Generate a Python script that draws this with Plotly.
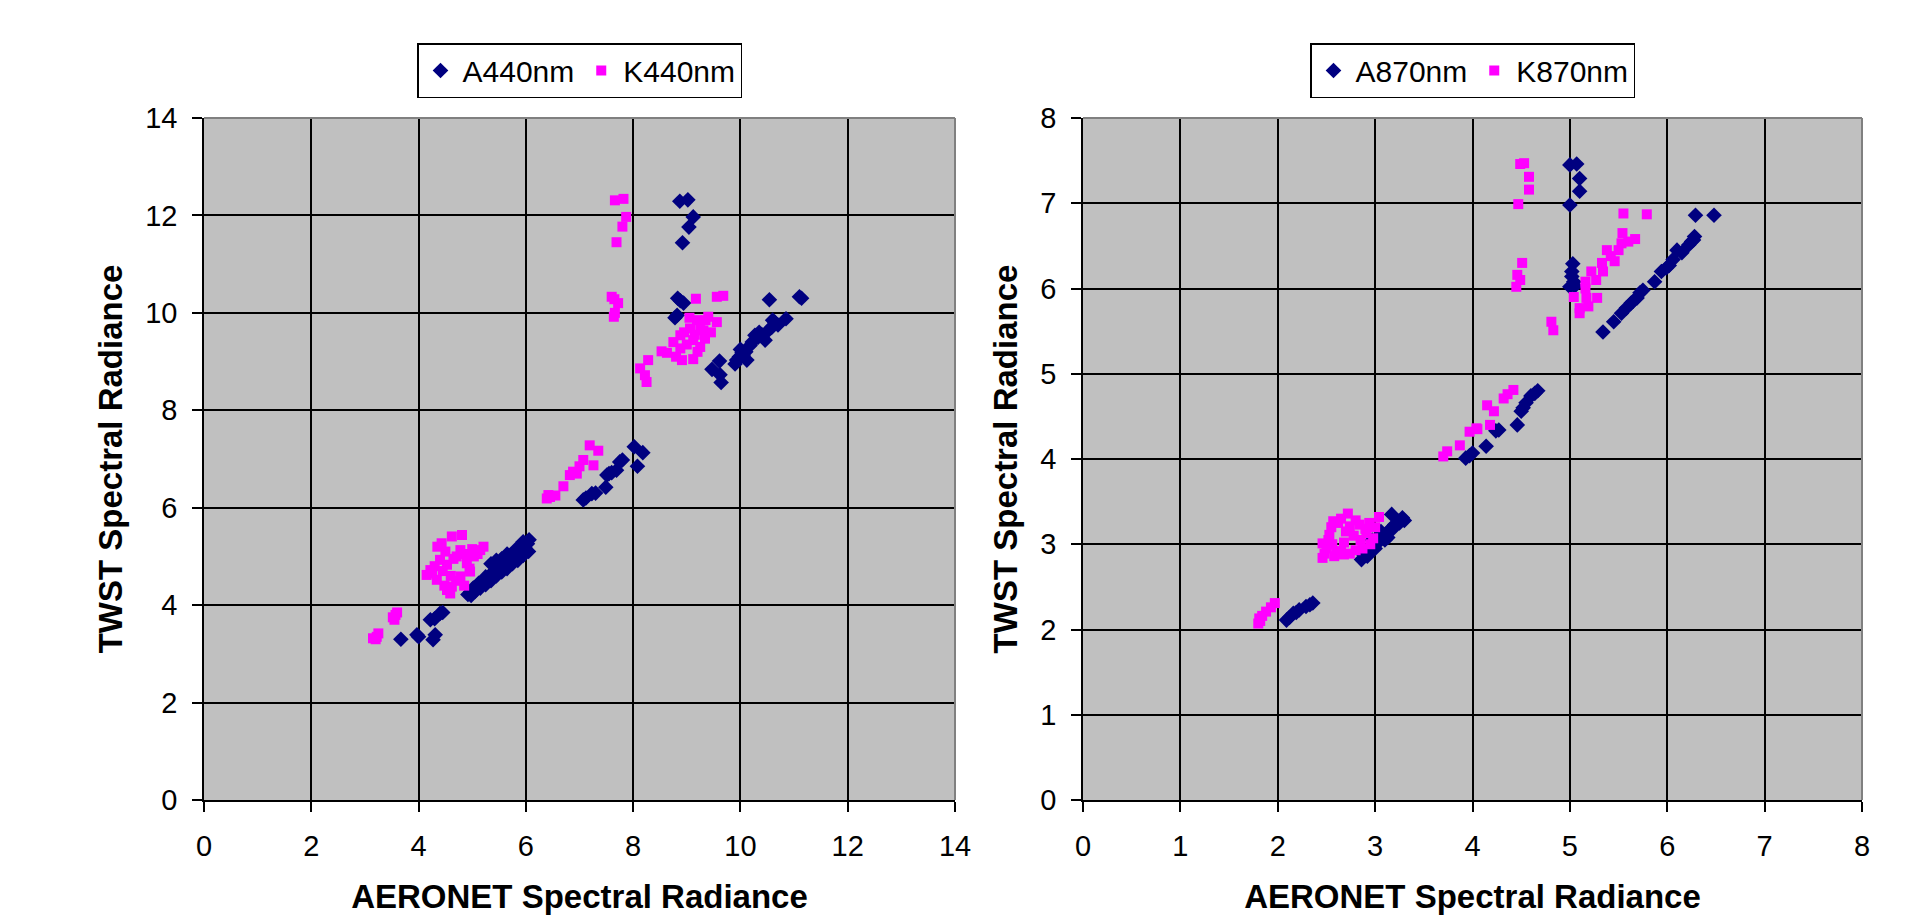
import plotly.graph_objects as go

# ---------------- Left panel: 440 nm ----------------
a440_x = [3.67, 3.97, 4.00, 4.27, 4.31, 4.22, 4.30, 4.40, 4.45,
          4.92, 4.97, 5.02, 5.08, 5.12, 5.18, 5.22, 5.28, 5.33, 5.38, 5.42, 5.47, 5.52, 5.58,
          5.63, 5.68, 5.73, 5.78, 5.83, 5.88, 5.93, 5.98, 6.03, 6.06, 5.35, 5.45, 5.55, 5.65,
          5.82, 5.95, 5.15, 5.25,
          5.05, 5.15, 5.25, 5.35, 5.45, 5.55, 5.65, 5.75, 5.85, 5.95, 6.05, 4.98,
          7.07, 7.12, 7.23, 7.49, 7.51, 7.60, 7.69, 7.75, 7.80, 8.02, 8.18, 8.08, 7.30, 7.55,
          8.87, 9.02, 9.12, 9.04, 8.92, 8.83, 8.88, 8.94, 8.78, 8.82,
          9.47, 9.61, 9.62, 9.64, 9.93, 9.98, 10.03, 10.12, 10.18, 10.10, 10.27, 10.33, 10.46,
          10.52, 10.58, 10.64, 10.60, 10.54, 10.85, 11.10, 11.14, 10.22, 10.40, 10.05,
          10.35, 10.70, 10.00, 9.90]
a440_y = [3.30, 3.39, 3.35, 3.29, 3.39, 3.70, 3.72, 3.83, 3.85,
          4.22, 4.27, 4.35, 4.38, 4.45, 4.48, 4.52, 4.55, 4.62, 4.66, 4.70, 4.72, 4.78, 4.82,
          4.86, 4.92, 4.96, 5.00, 5.04, 5.08, 5.12, 5.18, 5.26, 5.34, 4.85, 4.92, 4.95, 5.05,
          5.15, 5.30, 4.42, 4.58,
          4.28, 4.35, 4.42, 4.50, 4.60, 4.68, 4.75, 4.85, 4.92, 5.02, 5.10, 4.20,
          6.16, 6.20, 6.29, 6.42, 6.67, 6.72, 6.77, 6.94, 6.98, 7.25, 7.13, 6.85, 6.30, 6.70,
          12.29, 12.32, 11.97, 11.76, 11.44, 10.30, 10.25, 10.20, 9.90, 9.95,
          8.84, 9.01, 8.73, 8.57, 9.03, 9.10, 9.18, 9.03, 9.33, 9.20, 9.54, 9.50, 9.44,
          9.64, 9.70, 9.81, 9.85, 10.27, 9.88, 10.33, 10.30, 9.40, 9.55, 9.12,
          9.60, 9.75, 9.25, 8.95]

k440_x = [3.15, 3.22, 3.25, 3.20, 3.52, 3.57, 3.60, 3.55,
          4.43, 4.81, 4.62, 5.21, 4.22, 4.15, 4.34, 4.53, 4.59, 4.90, 4.71, 5.03, 5.15, 4.78,
          4.96, 4.40, 4.53, 4.78, 4.25,
          4.30, 4.45, 4.60, 4.70, 4.85, 4.65, 4.85, 5.00, 5.10, 4.50, 4.35, 4.95, 4.62, 4.48,
          6.39, 6.42, 6.45, 6.70, 6.82, 6.88, 6.95, 7.07, 7.19, 7.26, 7.35, 7.00, 6.55,
          7.66, 7.82, 7.87, 7.80, 7.69, 7.60, 7.65, 7.72, 7.64, 7.66,
          9.17, 9.56, 9.68, 9.19, 9.40, 9.56, 9.06, 8.88, 9.31, 9.34, 9.12, 8.88, 9.25, 8.91,
          9.12, 8.53, 8.63, 8.28, 8.13, 8.22, 8.25, 9.00, 9.20, 8.95, 9.25,
          8.75, 9.05, 9.35, 9.45, 8.80, 9.15]
k440_y = [3.32, 3.35, 3.42, 3.30, 3.75, 3.80, 3.85, 3.70,
          5.27, 5.44, 5.41, 5.20, 4.72, 4.62, 4.52, 4.31, 4.24, 4.86, 5.00, 5.00, 5.13, 4.59,
          4.69, 4.93, 4.83, 5.13, 4.65,
          4.80, 4.70, 4.60, 4.50, 4.40, 4.95, 5.05, 5.15, 5.05, 5.10, 5.20, 4.75, 4.38, 4.40,
          6.19, 6.26, 6.22, 6.44, 6.67, 6.74, 6.70, 6.98, 7.28, 6.87, 7.17, 6.85, 6.25,
          12.31, 12.34, 11.97, 11.77, 11.45, 10.33, 10.28, 10.20, 9.92, 10.00,
          10.29, 10.33, 10.35, 9.85, 9.92, 9.81, 9.68, 9.54, 9.64, 9.47, 9.44, 9.27, 9.30, 9.03,
          9.05, 9.21, 9.18, 9.03, 8.86, 8.72, 8.58, 9.35, 9.20, 9.60, 9.75,
          9.40, 9.90, 9.85, 9.60, 9.10, 9.55]

# ---------------- Right panel: 870 nm ----------------
a870_x = [2.09, 2.12, 2.16, 2.22, 2.29, 2.33, 2.36, 2.19,
          2.86, 2.90, 2.94, 2.98, 3.01, 3.05, 3.08, 3.12, 3.15, 3.20, 3.24, 3.28, 3.17, 2.97,
          3.06, 3.10,
          2.88, 2.95, 3.03, 3.10, 3.18, 3.25, 3.30, 2.92, 3.00, 3.13,
          3.93, 3.97, 4.00, 4.14, 4.24, 4.27, 4.46, 4.50, 4.55, 4.60, 4.67, 4.64, 4.52,
          5.00, 5.07, 5.10, 5.10, 5.00, 5.03, 5.02, 5.04, 5.00, 5.05, 5.02,
          5.34, 5.45, 5.53, 5.58, 5.63, 5.69, 5.75, 5.87, 5.94, 5.99, 6.06, 6.10, 6.22, 6.27,
          6.28, 6.29, 6.48, 5.65, 5.72, 6.02, 6.15, 6.25]
a870_y = [2.11, 2.14, 2.19, 2.23, 2.27, 2.29, 2.31, 2.20,
          2.82, 2.87, 2.91, 2.97, 3.01, 3.05, 3.09, 3.13, 3.17, 3.23, 3.27, 3.31, 3.35, 3.05,
          3.15, 3.05,
          2.88, 2.95, 3.02, 3.10, 3.18, 3.25, 3.28, 2.86, 2.95, 3.08,
          4.01, 4.04, 4.07, 4.15, 4.33, 4.34, 4.40, 4.56, 4.66, 4.74, 4.80, 4.77, 4.60,
          7.45, 7.46, 7.29, 7.14, 6.98, 6.29, 6.14, 6.08, 6.02, 6.03, 6.20,
          5.49, 5.61, 5.71, 5.77, 5.83, 5.89, 5.98, 6.08, 6.20, 6.24, 6.34, 6.45, 6.51, 6.57,
          6.61, 6.86, 6.86, 5.85, 5.95, 6.27, 6.42, 6.55]

k870_x = [1.80, 1.81, 1.84, 1.88, 1.93, 1.97, 1.82,
          2.72, 2.57, 2.65, 3.04, 2.94, 2.84, 2.74, 2.53, 2.46, 2.48, 2.46, 2.60, 2.74, 2.87,
          2.98, 2.91, 2.52, 2.65, 2.80, 3.00,
          2.55, 2.62, 2.70, 2.78, 2.85, 2.95, 2.50, 2.58, 2.68, 2.90, 2.80, 2.68, 2.56,
          3.70, 3.74, 3.87, 3.97, 4.04, 4.18, 4.15, 4.22, 4.32, 4.36, 4.42, 4.05,
          4.49, 4.53, 4.58, 4.58, 4.47, 4.51, 4.46, 4.49, 4.45,
          5.55, 5.79, 5.54, 5.67, 5.53, 5.50, 5.38, 5.46, 5.33, 5.34, 5.22, 5.27, 5.16, 5.16,
          5.04, 5.17, 5.28, 5.10, 5.19, 5.10, 4.81, 4.83, 5.60, 5.42]
k870_y = [2.07, 2.13, 2.16, 2.21, 2.26, 2.31, 2.10,
          3.36, 3.27, 3.30, 3.32, 3.25, 3.23, 3.21, 3.11, 3.01, 2.89, 2.84, 2.91, 2.89, 2.95,
          3.07, 3.13, 3.05, 2.92, 2.93, 3.20,
          3.20, 3.25, 3.15, 3.10, 3.05, 3.00, 2.95, 2.86, 2.88, 3.18, 3.28, 3.02, 3.00,
          4.03, 4.09, 4.16, 4.32, 4.36, 4.40, 4.63, 4.56, 4.71, 4.76, 4.81, 4.35,
          7.46, 7.47, 7.31, 7.16, 6.99, 6.30, 6.16, 6.10, 6.02,
          6.88, 6.87, 6.65, 6.58, 6.53, 6.45, 6.45, 6.32, 6.30, 6.20, 6.20, 6.10, 6.08, 6.00,
          5.90, 5.89, 5.89, 5.77, 5.79, 5.71, 5.61, 5.51, 6.55, 6.38]

x_title = "AERONET Spectral Radiance"
y_title = "TWST Spectral Radiance"

NAVY = "#000080"
MAGENTA = "#FF00FF"
FONT = "Liberation Sans, Arial, sans-serif"

fig = go.Figure()
fig.add_trace(go.Scatter(x=a440_x, y=a440_y, mode="markers", name="A440nm",
                         marker=dict(symbol="diamond", size=12, color=NAVY),
                         xaxis="x", yaxis="y", legend="legend"))
fig.add_trace(go.Scatter(x=k440_x, y=k440_y, mode="markers", name="K440nm",
                         marker=dict(symbol="square", size=10, color=MAGENTA),
                         xaxis="x", yaxis="y", legend="legend"))
fig.add_trace(go.Scatter(x=a870_x, y=a870_y, mode="markers", name="A870nm",
                         marker=dict(symbol="diamond", size=12, color=NAVY),
                         xaxis="x2", yaxis="y2", legend="legend2"))
fig.add_trace(go.Scatter(x=k870_x, y=k870_y, mode="markers", name="K870nm",
                         marker=dict(symbol="square", size=10, color=MAGENTA),
                         xaxis="x2", yaxis="y2", legend="legend2"))

# The page body has an 8px margin, so the figure is drawn offset by 8px.
OFF = 8
W, H = 1909 - OFF, 915 - OFF
L1, R1 = 204 - OFF, 955 - OFF
L2, R2 = 1083 - OFF, 1862 - OFF
TOP, BOT = 118 - OFF, 800 - OFF
LEG_TOP = 43 - OFF
xd1 = [L1 / W, R1 / W]
xd2 = [L2 / W, R2 / W]
yd = [1 - BOT / H, 1 - TOP / H]

axis_common = dict(showline=True, linecolor="black", linewidth=1.5,
                   ticks="outside", ticklen=10, tickcolor="black", tickwidth=1.5,
                   ticklabelstandoff=9,
                   showgrid=True, gridcolor="black", gridwidth=1.5,
                   zeroline=False, tickfont=dict(family=FONT, size=29, color="black"),
                   automargin=False, fixedrange=True)
title_font = dict(family=FONT, size=33, color="black")

fig.update_layout(
    width=W, height=H,
    margin=dict(l=0, r=0, t=0, b=0, autoexpand=False),
    paper_bgcolor="white", plot_bgcolor="#C0C0C0",
    font=dict(family=FONT, color="black"),
    xaxis=dict(domain=xd1, range=[0, 14], dtick=2, anchor="y",
               title=dict(text="<b>" + x_title + "</b>", font=title_font, standoff=27),
               **axis_common),
    yaxis=dict(domain=yd, range=[0, 14], dtick=2, anchor="x",
               title=dict(text="<b>" + y_title + "</b>", font=title_font, standoff=13),
               **axis_common),
    xaxis2=dict(domain=xd2, range=[0, 8], dtick=1, anchor="y2",
                title=dict(text="<b>" + x_title + "</b>", font=title_font, standoff=27),
                **axis_common),
    yaxis2=dict(domain=yd, range=[0, 8], dtick=1, anchor="x2",
                title=dict(text="<b>" + y_title + "</b>", font=title_font, standoff=13),
                **axis_common),
    legend=dict(x=(L1 + R1) / 2 / W, y=1 - LEG_TOP / H, xanchor="center", yanchor="top",
                orientation="h", bgcolor="white", bordercolor="black", borderwidth=1.5,
                font=dict(family=FONT, size=30, color="black"), itemwidth=34),
    legend2=dict(x=(L2 + R2) / 2 / W, y=1 - LEG_TOP / H, xanchor="center", yanchor="top",
                 orientation="h", bgcolor="white", bordercolor="black", borderwidth=1.5,
                 font=dict(family=FONT, size=30, color="black"), itemwidth=34),
    showlegend=True,
)

# grey plot-area border on top / right (as in the original Excel chart)
for xr, yr in (("x domain", "y domain"), ("x2 domain", "y2 domain")):
    fig.add_shape(type="line", xref=xr, yref=yr, x0=0, x1=1, y0=1, y1=1,
                  line=dict(color="#808080", width=2), layer="above")
    fig.add_shape(type="line", xref=xr, yref=yr, x0=1, x1=1, y0=0, y1=1,
                  line=dict(color="#808080", width=2), layer="above")

fig.write_html("out.html")
